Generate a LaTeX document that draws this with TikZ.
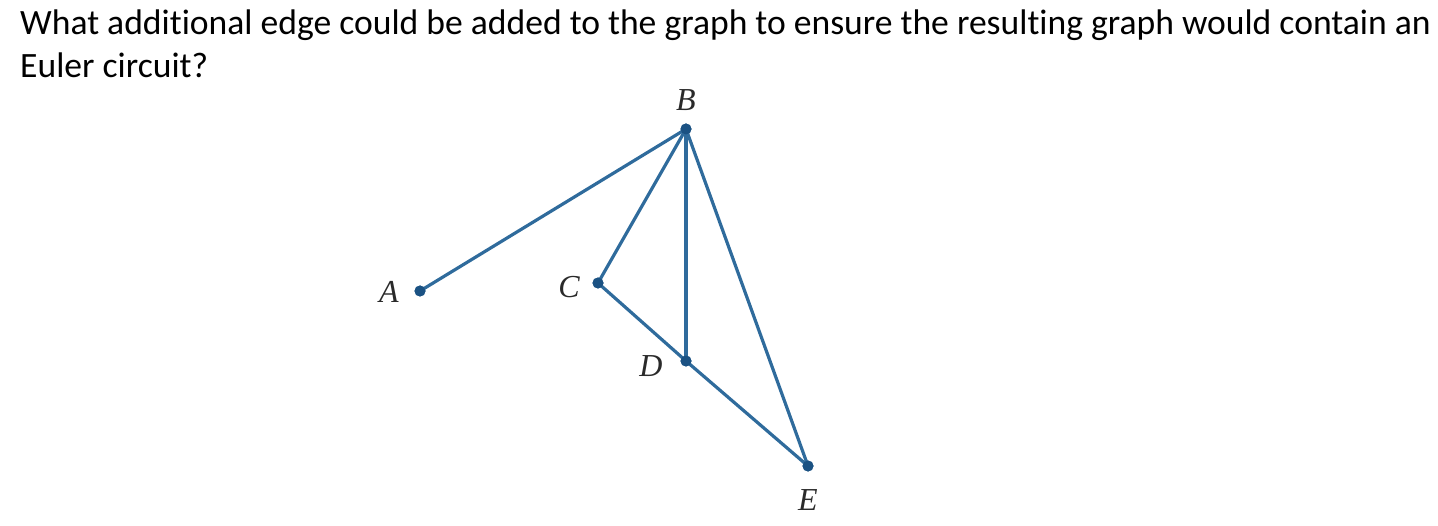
\documentclass[tikz,border=0pt]{standalone}
\usepackage{fontspec}
\setmainfont[Ligatures={NoCommon}]{Carlito}
\newfontfamily\labfont{Liberation Serif}
\definecolor{edgeblue}{HTML}{2F6B9C}
\definecolor{dotblue}{HTML}{1B5283}
\definecolor{labgray}{HTML}{2A2A2A}
\begin{document}
\begin{tikzpicture}[x=1pt,y=-1pt,
  vert/.style={circle,fill=dotblue,inner sep=0pt,minimum size=11pt},
  lab/.style={font=\labfont\itshape\fontsize{32}{32}\selectfont,text=labgray,inner sep=0pt},
  edge/.style={draw=edgeblue,line width=3.2pt}]
\useasboundingbox (0,0) rectangle (1438,526);
\node[anchor=base west,inner sep=0pt,font=\fontsize{35.6}{43}\selectfont] (q1) at (20,35) {What additional edge could be added to the graph to ensure the resulting graph would contain an};
\node[anchor=base west,inner sep=0pt,font=\fontsize{35.6}{43}\selectfont] (q2) at (20,78) {Euler circuit?};
\node[vert] (A) at (420,291) {};
\node[vert] (B) at (686,129) {};
\node[vert] (C) at (598,283) {};
\node[vert] (D) at (686,361) {};
\node[vert] (E) at (808,466) {};
\node[lab] (lA) at (389,292) {A};
\node[lab] (lB) at (686,100) {B};
\node[lab] (lC) at (569,287) {C};
\node[lab] (lD) at (651,366) {D};
\node[lab] (lE) at (808,500) {E};
\draw[edge] (A.center) -- (B.center);
\draw[edge] (B.center) -- (C.center);
\draw[edge] (B.center) -- (D.center);
\draw[edge] (B.center) -- (E.center);
\draw[edge] (C.center) -- (D.center);
\draw[edge] (D.center) -- (E.center);
\foreach \v in {A,B,C,D,E} \node[vert] at (\v) {};
\end{tikzpicture}
\end{document}
